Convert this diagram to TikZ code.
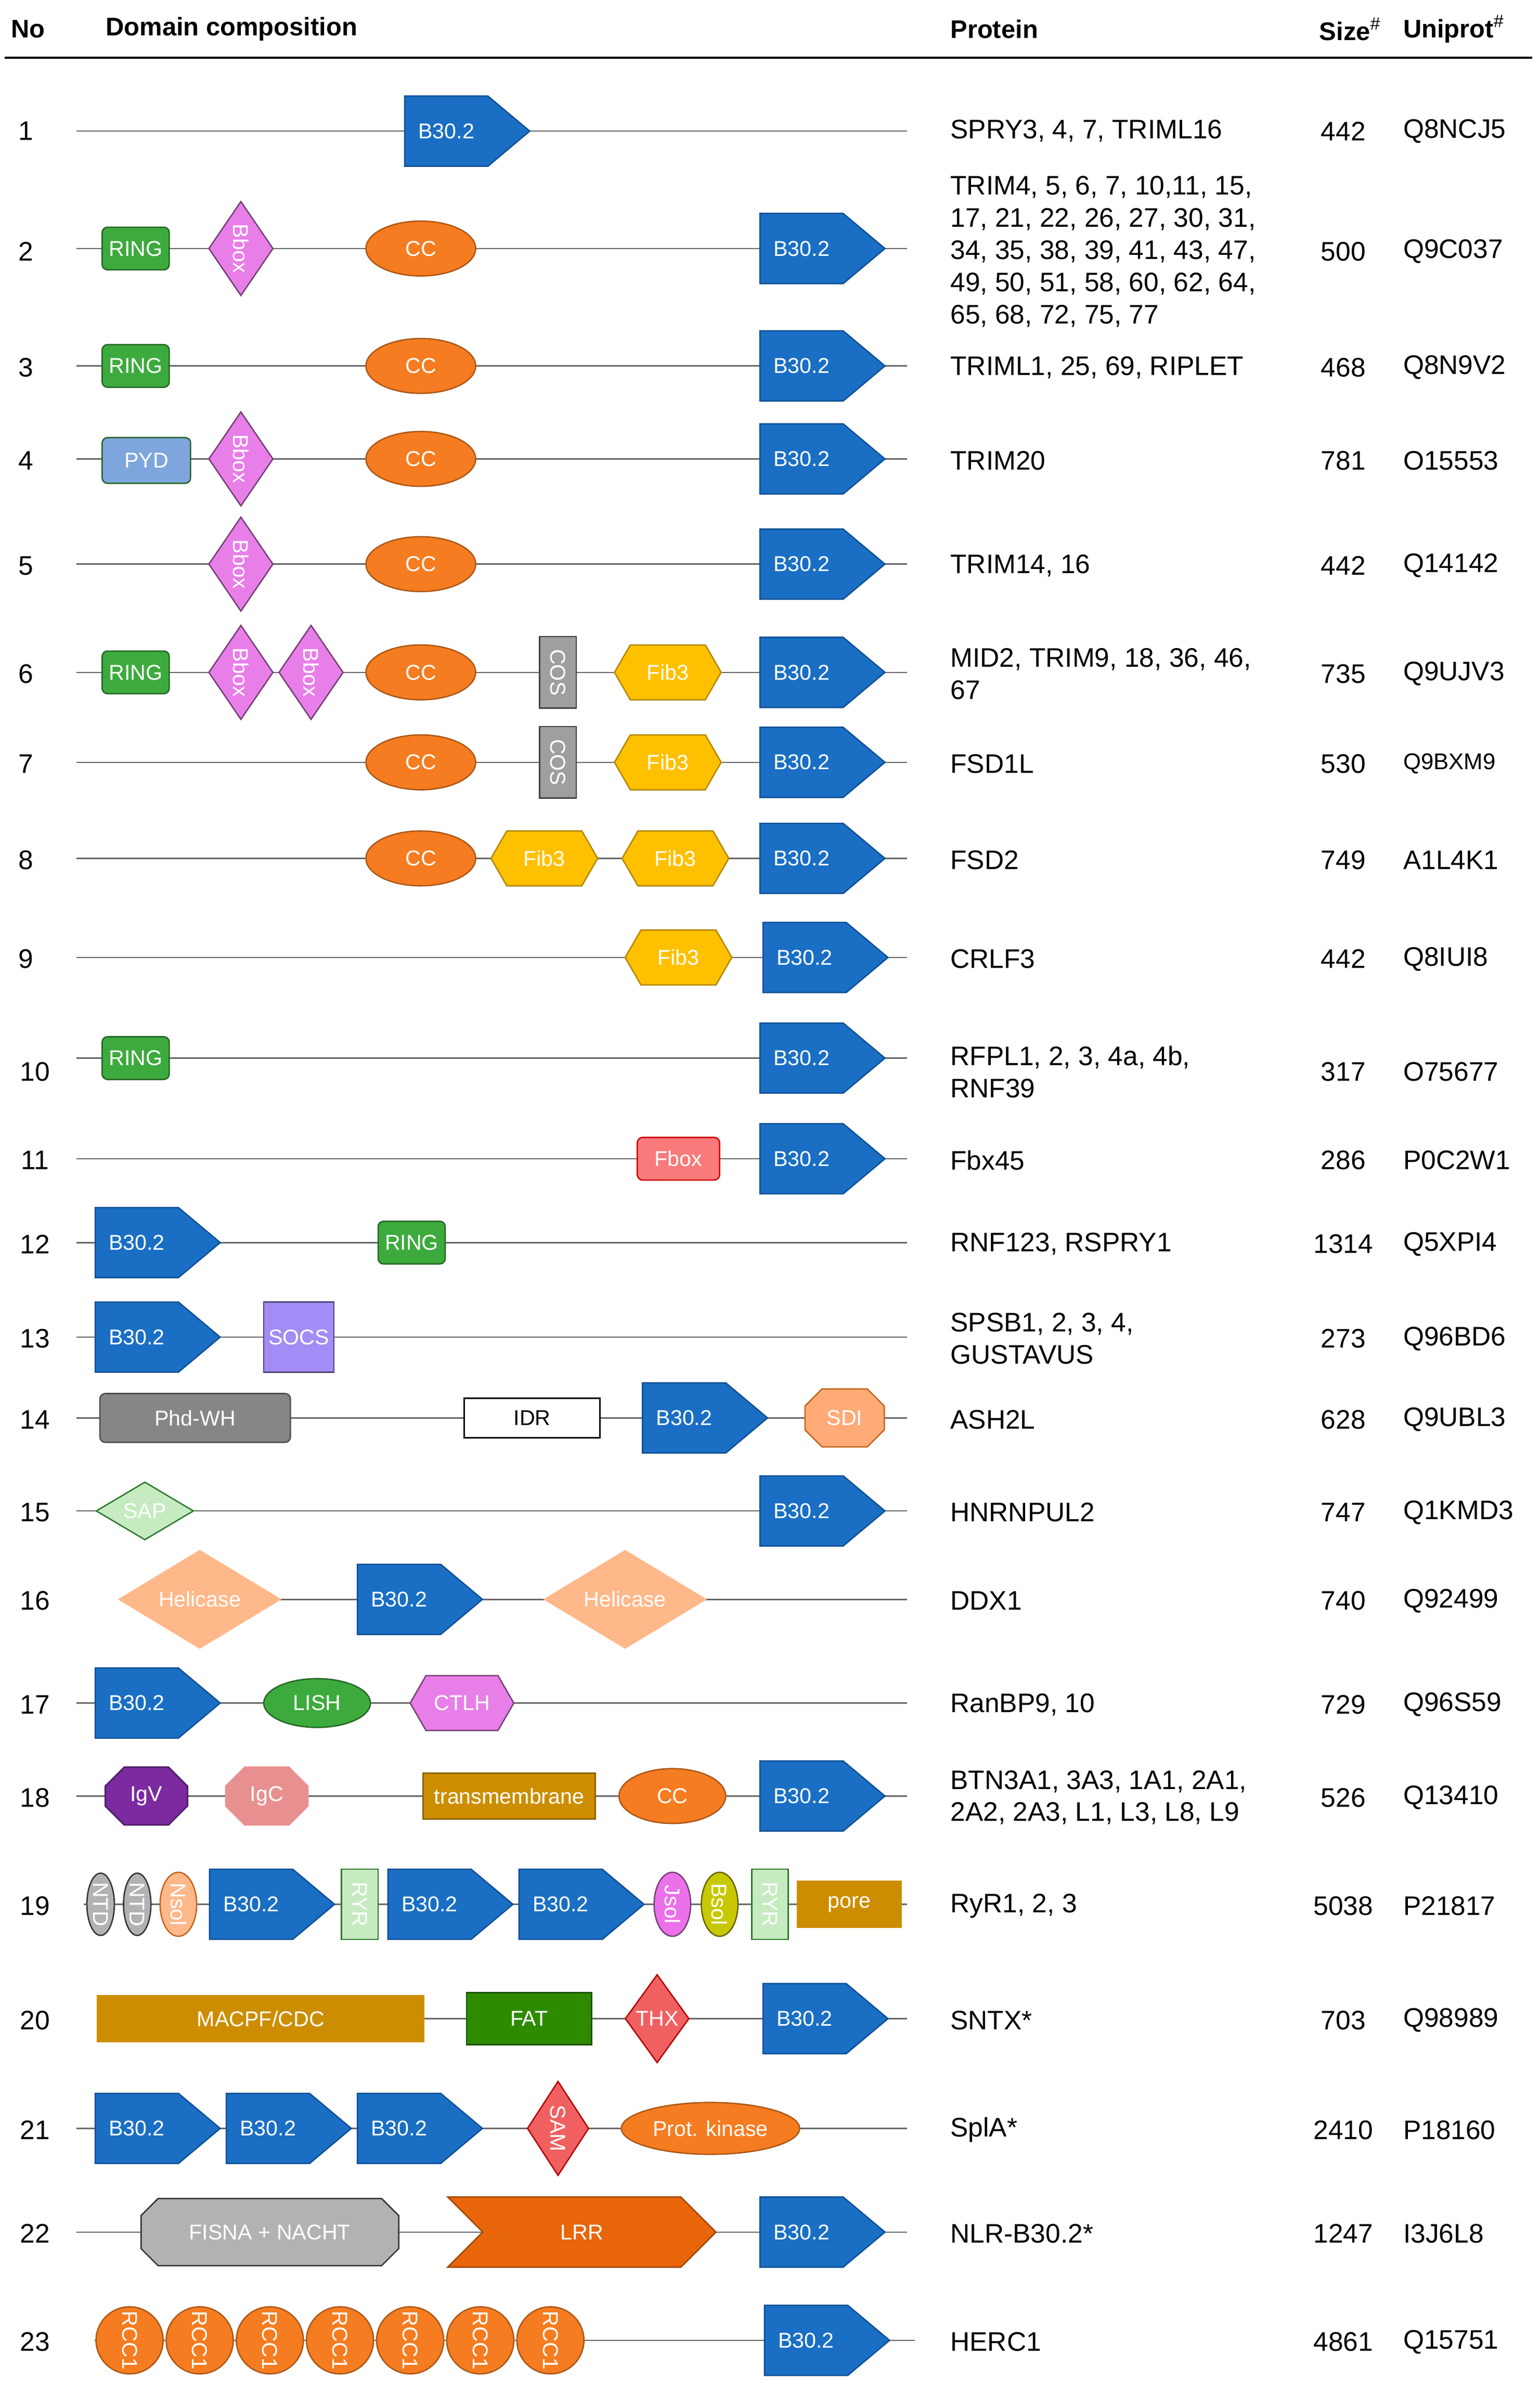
\documentclass[tikz,border=0pt]{standalone}
\usepackage{fontspec}
\setmainfont{Liberation Sans}
\usetikzlibrary{shapes.geometric,shapes.symbols,shapes.misc,positioning}
\definecolor{bblue}{HTML}{1A6FC4}
\definecolor{bdark}{HTML}{0F4F94}
\definecolor{ringg}{HTML}{3DAA3D}
\definecolor{boxm}{HTML}{E87EE8}
\definecolor{cco}{HTML}{F57C20}
\definecolor{fiby}{HTML}{FFC000}
\definecolor{pydb}{HTML}{7FA6DC}
\definecolor{fboxr}{HTML}{F87A7A}
\definecolor{socsp}{HTML}{A38CF5}
\definecolor{sdio}{HTML}{FFAA77}
\definecolor{sapg}{HTML}{C6EBC0}
\definecolor{helo}{HTML}{FFB88A}
\definecolor{igvp}{HTML}{7B2AA0}
\definecolor{igcp}{HTML}{E89090}
\definecolor{tmy}{HTML}{CC8E00}
\definecolor{fatg}{HTML}{2E8B00}
\definecolor{thxr}{HTML}{F06060}
\definecolor{lrro}{HTML}{E8650A}
\definecolor{ryrg}{HTML}{C6EBC0}
\definecolor{bsoly}{HTML}{C8C800}
\tikzset{
  backbone/.style={draw=black!60,line width=0.5pt},
  dom/.style={font=\fontsize{8}{9}\selectfont,inner sep=0pt,line width=0.5pt},
  b30/.style={dom,signal,signal to=east,signal pointer angle=80,fill=bblue,draw=bdark,text=white,minimum width=1.64cm,minimum height=0.92cm,anchor=west},
  ring/.style={dom,rectangle,rounded corners=2pt,fill=ringg,draw=ringg!60!black,text=white,minimum width=0.88cm,minimum height=0.56cm},
  bbox/.style={dom,diamond,fill=boxm,draw=boxm!50!black,text=white,minimum width=0.68cm,minimum height=1.24cm},
  cc/.style={dom,ellipse,fill=cco,draw=cco!70!black,text=white,minimum width=1.44cm,minimum height=0.72cm},
  cos/.style={dom,rectangle,fill=gray!75,draw=gray!50!black,text=white,minimum width=0.48cm,minimum height=0.94cm},
  fib/.style={dom,signal,signal to=east and west,signal pointer angle=120,fill=fiby,draw=fiby!70!black,text=white,minimum width=1.4cm,minimum height=0.72cm},
  txt/.style={font=\fontsize{10}{12}\selectfont,inner sep=0pt},
  hdr/.style={font=\bfseries\fontsize{9.5}{11}\selectfont,inner sep=0pt,anchor=west}
}
\begin{document}
\begin{tikzpicture}[x=0.02cm,y=-0.02cm]
\useasboundingbox (0,0) rectangle (1010,1563);
% header
\node[hdr] (hno) at (7,19) {No};
\node[hdr] (hdom) at (69,19) {Domain composition};
\node[hdr] (hprot) at (623,19) {Protein};
\node[hdr] (hsize) at (865,19) {Size$^\#$};
\node[hdr] (huni) at (920,19) {Uniprot$^\#$};
\coordinate (hl) at (3,38); \coordinate (hr) at (1005,38);
\draw[line width=0.8pt] (hl) -- (hr);
% backbones
\foreach \r/\y/\a/\b in {1/86/50/595,2/163/50/595,3/240/50/595,4/301/50/595,5/370/50/595,6/441/50/595,7/500/50/595,8/563/50/595,9/628/50/595,10/694/50/595,11/760/50/595,12/815/50/595,13/877/50/595,14/930/50/595,15/991/50/595,16/1049/80/595,17/1117/50/595,18/1178/50/595,19/1249/55/595,20/1324/64/595,21/1396/50/595,22/1464/50/595,23/1535/62/600}{
  \coordinate (s\r) at (\a,\y); \coordinate (e\r) at (\b,\y);
  \draw[backbone] (s\r) -- (e\r);
}
% row numbers
\foreach \r/\x/\y in {1/17/86,2/17/165,3/17/241,4/17/302,5/17/371,6/17/442,7/17/501,8/17/564,9/17/629,10/23/703,11/23/761,12/23/816,13/23/878,14/23/931,15/23/992,16/23/1050,17/23/1118,18/23/1179,19/23/1250,20/23/1325,21/23/1397,22/23/1465,23/23/1536}
  \node[txt] (n\r) at (\x,\y) {\r};
% 1
\node[b30] (r1b) at (265,86) {B30.2};
% 2
\node[ring] (r2ring) at (89,163) {RING};
\node[bbox] (r2bb) at (158,163) {\rotatebox{-90}{Bbox}};
\node[cc] (r2cc) at (276,163) {CC};
\node[b30] (r2b) at (498,163) {B30.2};
% 3
\node[ring] (r3ring) at (89,240) {RING};
\node[cc] (r3cc) at (276,240) {CC};
\node[b30] (r3b) at (498,240) {B30.2};
% 4
\node[ring,fill=pydb,draw=ringg!60!black,minimum width=1.16cm,minimum height=0.6cm] (r4pyd) at (96,302) {PYD};
\node[bbox] (r4bb) at (158,301) {\rotatebox{-90}{Bbox}};
\node[cc] (r4cc) at (276,301) {CC};
\node[b30] (r4b) at (498,301) {B30.2};
% 5
\node[bbox] (r5bb) at (158,370) {\rotatebox{-90}{Bbox}};
\node[cc] (r5cc) at (276,370) {CC};
\node[b30] (r5b) at (498,370) {B30.2};
% 6
\node[ring] (r6ring) at (89,441) {RING};
\node[bbox] (r6bb1) at (158,441) {\rotatebox{-90}{Bbox}};
\node[bbox] (r6bb2) at (204,441) {\rotatebox{-90}{Bbox}};
\node[cc] (r6cc) at (276,441) {CC};
\node[cos] (r6cos) at (366,441) {\rotatebox{-90}{COS}};
\node[fib] (r6fib) at (438,441) {Fib3};
\node[b30] (r6b) at (498,441) {B30.2};
% 7
\node[cc] (r7cc) at (276,500) {CC};
\node[cos] (r7cos) at (366,500) {\rotatebox{-90}{COS}};
\node[fib] (r7fib) at (438,500) {Fib3};
\node[b30] (r7b) at (498,500) {B30.2};
% 8
\node[cc] (r8cc) at (276,563) {CC};
\node[fib] (r8fib1) at (357,563) {Fib3};
\node[fib] (r8fib2) at (443,563) {Fib3};
\node[b30] (r8b) at (498,563) {B30.2};
% 9
\node[fib] (r9fib) at (445,628) {Fib3};
\node[b30] (r9b) at (500,628) {B30.2};
% 10
\node[ring] (r10ring) at (89,694) {RING};
\node[b30] (r10b) at (498,694) {B30.2};
% 11
\node[ring,fill=fboxr,draw=red!80!black,minimum width=1.08cm] (r11fbox) at (445,760) {Fbox};
\node[b30] (r11b) at (498,760) {B30.2};
% 12
\node[b30] (r12b) at (62,815) {B30.2};
\node[ring] (r12ring) at (270,815) {RING};
% 13
\node[b30] (r13b) at (62,877) {B30.2};
\node[dom,rectangle,fill=socsp,draw=socsp!50!black,text=white,minimum size=0.92cm] (r13socs) at (196,877) {SOCS};
% 14
\node[ring,fill=gray!95,draw=gray!60!black,minimum width=2.5cm,minimum height=0.64cm] (r14phd) at (128,930) {Phd-WH};
\node[dom,rectangle,draw=black,fill=white,minimum width=1.78cm,minimum height=0.52cm] (r14idr) at (349,930) {IDR};
\node[b30] (r14b) at (421,930) {B30.2};
\node[dom,chamfered rectangle,chamfered rectangle xsep=0.16cm,fill=sdio,draw=cco!80!black,text=white,minimum width=1.04cm,minimum height=0.76cm] (r14sdi) at (554,930) {SDI};
% 15
\node[dom,diamond,fill=sapg,draw=ringg!70!black,text=white,minimum width=1.28cm,minimum height=0.64cm] (r15sap) at (95,991) {SAP};
\node[b30] (r15b) at (498,991) {B30.2};
% 16
\node[dom,diamond,fill=helo,draw=helo,text=white,minimum width=2.12cm,minimum height=1.2cm] (r16hel1) at (131,1049) {Helicase};
\node[b30] (r16b) at (234,1049) {B30.2};
\node[dom,diamond,fill=helo,draw=helo,text=white,minimum width=2.12cm,minimum height=1.2cm] (r16hel2) at (410,1049) {Helicase};
% 17
\node[b30] (r17b) at (62,1117) {B30.2};
\node[dom,ellipse,fill=ringg,draw=ringg!60!black,text=white,minimum width=1.4cm,minimum height=0.64cm] (r17lish) at (208,1117) {LISH};
\node[fib,fill=boxm,draw=boxm!50!black,minimum width=1.36cm] (r17ctlh) at (303,1117) {CTLH};
% 18
\node[dom,chamfered rectangle,chamfered rectangle xsep=0.16cm,fill=igvp,draw=igvp!60!black,text=white,minimum width=1.08cm,minimum height=0.76cm] (r18igv) at (96,1178) {IgV};
\node[dom,chamfered rectangle,chamfered rectangle xsep=0.16cm,fill=igcp,draw=igcp,text=white,minimum width=1.08cm,minimum height=0.76cm] (r18igc) at (175,1178) {IgC};
\node[dom,rectangle,fill=tmy,draw=tmy!70!black,text=white,minimum width=2.26cm,minimum height=0.6cm] (r18tm) at (334,1178) {transmembrane};
\node[cc,minimum width=1.4cm] (r18cc) at (441,1178) {CC};
\node[b30] (r18b) at (498,1178) {B30.2};
% 19
\node[dom,ellipse,fill=gray!60,draw=gray!40!black,text=white,minimum width=0.36cm,minimum height=0.8cm] (r19ntd1) at (66,1249) {\rotatebox{-90}{NTD}};
\node[dom,ellipse,fill=gray!60,draw=gray!40!black,text=white,minimum width=0.36cm,minimum height=0.8cm] (r19ntd2) at (90,1249) {\rotatebox{-90}{NTD}};
\node[dom,ellipse,fill=helo,draw=cco!80!black,text=white,minimum width=0.48cm,minimum height=0.84cm] (r19nsol) at (117,1249) {\rotatebox{-90}{Nsol}};
\node[b30] (r19b1) at (137,1249) {B30.2};
\node[dom,rectangle,fill=ryrg,draw=ringg!70!black,text=white,minimum width=0.48cm,minimum height=0.92cm] (r19ryr1) at (236,1249) {\rotatebox{-90}{RYR}};
\node[b30] (r19b2) at (254,1249) {B30.2};
\node[b30] (r19b3) at (340,1249) {B30.2};
\node[dom,ellipse,fill=boxm!90!magenta,draw=boxm!50!black,text=white,minimum width=0.48cm,minimum height=0.84cm] (r19jsol) at (441,1249) {\rotatebox{-90}{Jsol}};
\node[dom,ellipse,fill=bsoly,draw=bsoly!50!black,text=white,minimum width=0.48cm,minimum height=0.84cm] (r19bsol) at (472,1249) {\rotatebox{-90}{Bsol}};
\node[dom,rectangle,fill=ryrg,draw=ringg!70!black,text=white,minimum width=0.48cm,minimum height=0.92cm] (r19ryr2) at (505,1249) {\rotatebox{-90}{RYR}};
\node[dom,rectangle,fill=tmy,draw=tmy,text=white,minimum width=1.36cm,minimum height=0.6cm] (r19pore) at (557,1249) {pore};
% 20
\node[dom,rectangle,fill=tmy,draw=tmy,text=white,minimum width=4.28cm,minimum height=0.6cm] (r20mac) at (171,1324) {MACPF/CDC};
\node[dom,rectangle,fill=fatg,draw=fatg!60!black,text=white,minimum width=1.64cm,minimum height=0.68cm] (r20fat) at (347,1324) {FAT};
\node[dom,diamond,fill=thxr,draw=red!70!black,text=white,minimum width=0.84cm,minimum height=1.16cm] (r20thx) at (431,1324) {THX};
\node[b30] (r20b) at (500,1324) {B30.2};
% 21
\node[b30] (r21b1) at (62,1396) {B30.2};
\node[b30] (r21b2) at (148,1396) {B30.2};
\node[b30] (r21b3) at (234,1396) {B30.2};
\node[dom,diamond,fill=thxr,draw=red!70!black,text=white,minimum width=0.6cm,minimum height=1.24cm] (r21sam) at (366,1396) {\rotatebox{-90}{SAM}};
\node[cc,minimum width=2.34cm,minimum height=0.68cm] (r21pk) at (466,1396) {Prot. kinase};
% 22
\node[dom,chamfered rectangle,chamfered rectangle xsep=0.24cm,fill=gray!60,draw=gray!40!black,text=white,minimum width=3.38cm,minimum height=0.88cm] (r22fis) at (177,1464) {FISNA + NACHT};
\node[dom,signal,signal from=west,signal to=east,signal pointer angle=90,fill=lrro,draw=lrro!70!black,text=white,minimum width=3.52cm,minimum height=0.92cm,anchor=west] (r22lrr) at (316,1464) {LRR};
\node[b30] (r22b) at (498,1464) {B30.2};
% 23
\foreach \i/\x in {1/85,2/131,3/177,4/223,5/269,6/315,7/361}
  \node[dom,circle,fill=cco,draw=cco!70!black,text=white,minimum size=0.88cm] (r23rcc\i) at (\x,1535) {\rotatebox{-90}{RCC1}};
\node[b30] (r23b) at (501,1535) {B30.2};
% protein, size, uniprot
\foreach \r/\y/\p/\s/\u in {1/86/{SPRY3, 4, 7, TRIML16}/442/Q8NCJ5,
  2/165/{TRIM4, 5, 6, 7, 10,11, 15,\\17, 21, 22, 26, 27, 30, 31,\\34, 35, 38, 39, 41, 43, 47,\\49, 50, 51, 58, 60, 62, 64,\\65, 68, 72, 75, 77}/500/Q9C037,
  3/241/{TRIML1, 25, 69, RIPLET}/468/Q8N9V2,
  4/302/{TRIM20}/781/O15553,
  5/371/{TRIM14, 16}/442/Q14142,
  6/442/{MID2, TRIM9, 18, 36, 46,\\67}/735/Q9UJV3,
  8/564/{FSD2}/749/A1L4K1,
  9/629/{CRLF3}/442/Q8IUI8,
  10/703/{RFPL1, 2, 3, 4a, 4b,\\RNF39}/317/O75677,
  11/761/{Fbx45}/286/P0C2W1,
  12/816/{RNF123, RSPRY1}/1314/Q5XPI4,
  13/878/{SPSB1, 2, 3, 4,\\GUSTAVUS}/273/Q96BD6,
  14/931/{ASH2L}/628/Q9UBL3,
  15/992/{HNRNPUL2}/747/Q1KMD3,
  16/1050/{DDX1}/740/Q92499,
  17/1118/{RanBP9, 10}/729/Q96S59,
  18/1179/{BTN3A1, 3A3, 1A1, 2A1,\\2A2, 2A3, L1, L3, L8, L9}/526/Q13410,
  19/1250/{RyR1, 2, 3}/5038/P21817,
  20/1325/{SNTX*}/703/Q98989,
  21/1397/{SplA*}/2410/P18160,
  22/1465/{NLR-B30.2*}/1247/I3J6L8,
  23/1536/{HERC1}/4861/Q15751}{
  \node[txt,anchor=west,align=left] (p\r) at (623,\y) {\p};
  \node[txt] (sz\r) at (881,\y) {\s};
  \node[txt,anchor=west] (u\r) at (920,\y) {\u};
}
\node[txt,anchor=west] (p7) at (623,501) {FSD1L};
\node[txt] (sz7) at (881,501) {530};
\node[txt,anchor=west,font=\fontsize{8.5}{10}\selectfont] (u7) at (920,501) {Q9BXM9};
\end{tikzpicture}
\end{document}
